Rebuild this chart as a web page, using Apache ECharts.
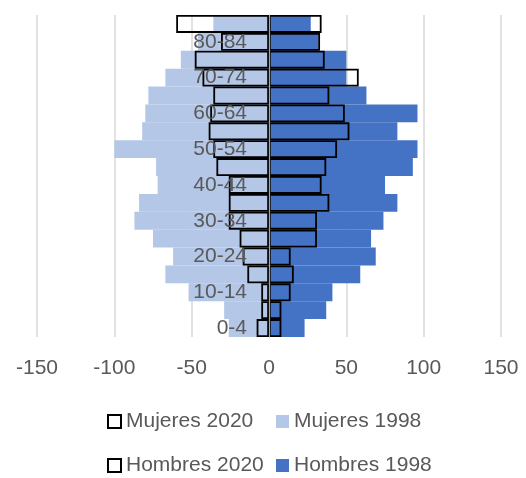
<!DOCTYPE html>
<html>
<head>
<meta charset="utf-8">
<script src="https://cdn.jsdelivr.net/npm/echarts@6/dist/echarts.min.js"></script>
<style>
html,body{margin:0;padding:0;background:#fff;}
#chart{width:526px;height:478px;}
</style>
</head>
<body>
<div id="chart"></div>
<script>
const categories = ['0-4','5-9','10-14','15-19','20-24','25-29','30-34','35-39','40-44','45-49','50-54','55-59','60-64','65-69','70-74','75-79','80-84','85+'];
const mujeres1998 = [-26,-29,-52,-67,-62,-75,-87,-84,-72,-73,-100,-82,-80,-78,-67,-57,-46,-36];
const hombres1998 = [23,37,41,59,69,66,74,83,75,93,96,83,96,63,50,50,32,27];
const mujeres2020 = [-8,-5,-5,-14,-17,-19,-26,-26,-26,-34,-36,-39,-38,-36,-43,-48,-31,-60];
const hombres2020 = [8,8,14,16,14,31,31,39,34,37,44,52,49,39,58,36,33,34];
const xTicks = {min:-150, max:150, interval:50};

const FONT = 'Liberation Sans';
const TXT = '#595959';
const GRID_LEFT = 37, GRID_RIGHT = 25;
const chart = echarts.init(document.getElementById('chart'), null, {renderer:'canvas'});
const plotW = 526 - GRID_LEFT - GRID_RIGHT;
const zeroOffset = -plotW * (0 - xTicks.min) / (xTicks.max - xTicks.min);

function legend(name, left, top, outlined){
  const item = outlined ? {name:name, itemStyle:{borderWidth:2, borderColor:'#000', color:'#fff'}} : {name:name};
  return {
    data:[item], left:left, top:top, padding:0, itemWidth:13, itemHeight:13,
    icon:'rect', itemGap:5,
    textStyle:{color:TXT, fontSize:21, fontFamily:FONT}
  };
}

chart.setOption({
  animation:false,
  backgroundColor:'#fff',
  grid:{left:GRID_LEFT, right:GRID_RIGHT, top:15, bottom:141, containLabel:false, outerBoundsMode:'none'},
  xAxis:{
    type:'value', min:xTicks.min, max:xTicks.max, interval:xTicks.interval,
    axisLine:{show:false}, axisTick:{show:false},
    axisLabel:{color:TXT, fontSize:21, fontFamily:FONT, margin:21},
    splitLine:{show:true, lineStyle:{color:'#d9d9d9', width:1.5}}
  },
  yAxis:{
    type:'category', data:categories, z:10, position:'left', offset:zeroOffset,
    axisLine:{show:true, onZero:false, lineStyle:{color:'#a6a6a6', width:1.2}},
    axisTick:{show:false},
    axisLabel:{color:TXT, fontSize:21, fontFamily:FONT, interval:1, margin:22},
    splitLine:{show:false}
  },
  legend:[
    legend('Mujeres 2020',107,411,true),
    legend('Mujeres 1998',276,411,false),
    legend('Hombres 2020',107,455,true),
    legend('Hombres 1998',276,455,false)
  ],
  series:[
    {name:'Mujeres 1998', type:'bar', data:mujeres1998, barGap:'-100%', barCategoryGap:0,
     itemStyle:{color:'#b4c7e7'}},
    {name:'Hombres 1998', type:'bar', data:hombres1998, barGap:'-100%', barCategoryGap:0,
     itemStyle:{color:'#4472c4'}},
    {name:'Mujeres 2020', type:'bar', data:mujeres2020, barGap:'-100%', barCategoryGap:0,
     itemStyle:{color:'rgba(255,255,255,0)', borderColor:'#000', borderWidth:1.8}},
    {name:'Hombres 2020', type:'bar', data:hombres2020, barGap:'-100%', barCategoryGap:0,
     itemStyle:{color:'rgba(255,255,255,0)', borderColor:'#000', borderWidth:1.8}}
  ]
});
</script>
</body>
</html>
